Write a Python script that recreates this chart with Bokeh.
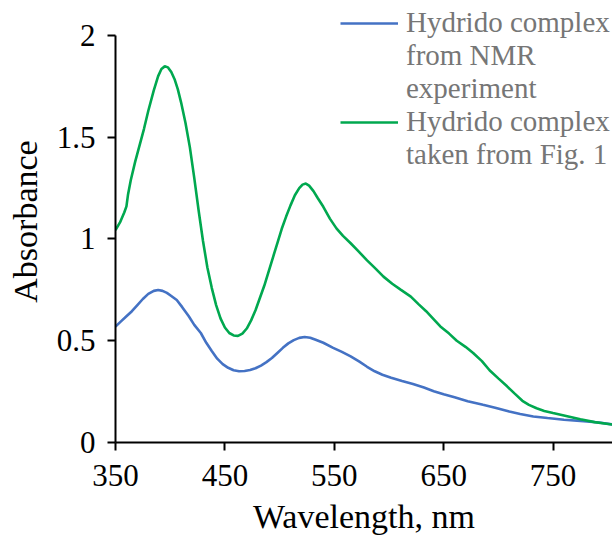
from bokeh.plotting import figure
from bokeh.models import Range1d, FixedTicker, Legend, LegendItem
from bokeh.embed import file_html
from bokeh.resources import INLINE

# Hydrido complex from NMR experiment (blue)
nmr_wl = [350, 355, 360, 365, 370, 375, 380, 385, 389, 393, 397, 401, 406, 411,
          417, 422, 428, 433, 438, 443, 448, 453, 458, 463, 468, 473, 478, 483,
          488, 493, 498, 503, 508, 513, 518, 523, 528, 533, 540, 549, 557, 565,
          573, 580, 587, 594, 602, 612, 622, 632, 641, 650, 660, 672, 686, 698,
          710, 720, 732, 745, 760, 778, 792, 805]
nmr_abs = [0.57, 0.595, 0.62, 0.645, 0.675, 0.705, 0.73, 0.745, 0.749, 0.745,
           0.735, 0.72, 0.70, 0.665, 0.62, 0.578, 0.538, 0.49, 0.45, 0.412, 0.385,
           0.367, 0.355, 0.35, 0.351, 0.356, 0.365, 0.378, 0.395, 0.415, 0.44,
           0.465, 0.487, 0.503, 0.514, 0.518, 0.515, 0.505, 0.49, 0.465, 0.445,
           0.423, 0.397, 0.372, 0.35, 0.333, 0.318, 0.302, 0.287, 0.27, 0.252,
           0.237, 0.222, 0.203, 0.185, 0.17, 0.152, 0.14, 0.128, 0.12, 0.112,
           0.105, 0.098, 0.088]

# Hydrido complex taken from Fig. 1 (green)
fig1_wl = [350, 354, 358, 360, 361.5, 364, 368, 372, 376, 380, 385, 389, 392, 395,
           398, 401, 404, 407, 410, 414, 418, 422, 426, 430, 434, 438, 442, 446,
           450, 454, 458, 462, 466, 470, 474, 478, 482, 486, 490, 494, 498, 502,
           506, 510, 514, 518, 521, 524, 527, 531, 535, 540, 546, 552, 558, 565,
           572, 580, 588, 595, 603, 611, 620, 627, 634, 641, 647, 655, 662, 670,
           677, 685, 692, 700, 708, 715, 722, 728, 735, 742, 750, 763, 775, 788,
           805]
fig1_abs = [1.044, 1.08, 1.13, 1.16, 1.22, 1.29, 1.38, 1.46, 1.54, 1.63, 1.73,
            1.80, 1.835, 1.848, 1.843, 1.82, 1.785, 1.735, 1.67, 1.57, 1.45, 1.30,
            1.14, 0.99, 0.86, 0.76, 0.675, 0.61, 0.565, 0.538, 0.526, 0.524, 0.535,
            0.56, 0.60, 0.65, 0.71, 0.77, 0.84, 0.91, 0.98, 1.05, 1.11, 1.165,
            1.215, 1.25, 1.267, 1.272, 1.262, 1.235, 1.20, 1.158, 1.10, 1.052,
            1.015, 0.979, 0.94, 0.895, 0.853, 0.815, 0.78, 0.75, 0.717, 0.68,
            0.645, 0.605, 0.57, 0.535, 0.50, 0.47, 0.44, 0.40, 0.355, 0.315, 0.276,
            0.24, 0.205, 0.185, 0.168, 0.155, 0.145, 0.129, 0.114, 0.10, 0.088]

x_ticks = [350, 450, 550, 650, 750]
y_ticks = [0, 0.5, 1, 1.5, 2]
y_tick_labels = ["0", "0.5", "1", "1.5", "2"]
legend_lines = ["Hydrido complex", "from NMR", "experiment",
                "Hydrido complex", "taken from Fig. 1"]

FONT = "Liberation Serif"
BLUE = "#4472C4"
GREEN = "#00A84F"

# frame spans the full height above the x axis so the legend is not clipped;
# the y axis line itself is bounded to 0..2
p = figure(width=612, height=537, output_backend="svg", toolbar_location=None,
           x_range=Range1d(350, 804.4), y_range=Range1d(0, 2.1716),
           min_border_left=115, min_border_right=0, min_border_top=0,
           min_border_bottom=94)
p.outline_line_color = None
p.grid.visible = False
p.background_fill_color = "white"
p.border_fill_color = "white"

r_nmr = p.line(nmr_wl, nmr_abs, line_color=BLUE, line_width=2.6)
r_fig1 = p.line(fig1_wl, fig1_abs, line_color=GREEN, line_width=2.6)
blank1 = p.line([], [], line_alpha=0)
blank2 = p.line([], [], line_alpha=0)
blank3 = p.line([], [], line_alpha=0)

for ax in (p.xaxis[0], p.yaxis[0]):
    ax.axis_line_color = "black"
    ax.axis_line_width = 2
    ax.major_tick_line_color = "black"
    ax.major_tick_line_width = 2
    ax.major_tick_in = 0
    ax.major_tick_out = 8
    ax.minor_tick_line_color = None
    ax.major_label_text_font = FONT
    ax.major_label_text_font_size = "31px"
    ax.major_label_text_color = "black"
    ax.axis_label_text_font = FONT
    ax.axis_label_text_font_size = "34px"
    ax.axis_label_text_font_style = "normal"
    ax.axis_label_text_color = "black"

p.yaxis.bounds = (0, 2)
p.xaxis.ticker = FixedTicker(ticks=x_ticks)
p.yaxis.ticker = FixedTicker(ticks=y_ticks)
p.yaxis.major_label_overrides = {t: s for t, s in zip(y_ticks, y_tick_labels)}
p.xaxis.axis_label = "Wavelength, nm"
p.yaxis.axis_label = "Absorbance"
p.xaxis.major_label_standoff = 14
p.yaxis.major_label_standoff = 12
p.xaxis.axis_label_standoff = 9
p.yaxis.axis_label_standoff = 10

items = [LegendItem(label=legend_lines[0], renderers=[r_nmr]),
         LegendItem(label=legend_lines[1], renderers=[blank1]),
         LegendItem(label=legend_lines[2], renderers=[blank2]),
         LegendItem(label=legend_lines[3], renderers=[r_fig1]),
         LegendItem(label=legend_lines[4], renderers=[blank3])]
legend = Legend(items=items, location=(225, 271), orientation="vertical",
                label_text_font=FONT, label_text_font_size="29px",
                label_text_color="#767676", glyph_width=58, glyph_height=20,
                label_height=33, spacing=0, padding=0, margin=0,
                label_standoff=8, border_line_color=None,
                background_fill_alpha=0)
p.add_layout(legend, "center")

open("out.html", "w").write(file_html(p, INLINE))
